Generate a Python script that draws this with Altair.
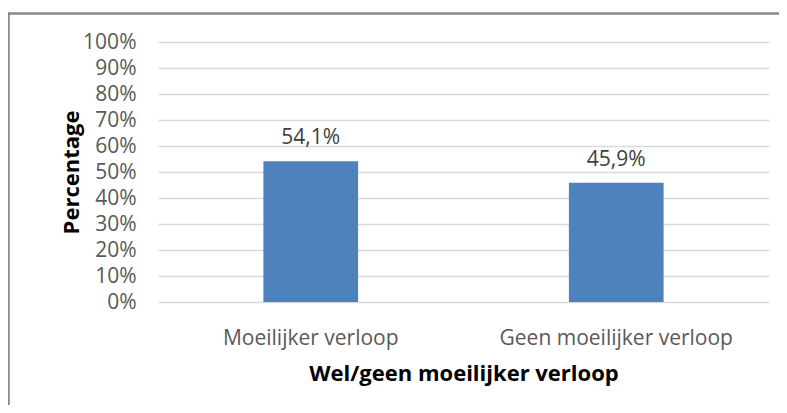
import altair as alt
import pandas as pd

categories = ["Moeilijker verloop", "Geen moeilijker verloop"]
values = [54.1, 45.9]
y_ticks = [0, 10, 20, 30, 40, 50, 60, 70, 80, 90, 100]

df = pd.DataFrame({"cat": categories, "val": values})

FONT = "Open Sans"

x_enc = alt.X(
    "cat:N",
    sort=categories,
    scale=alt.Scale(paddingInner=0.69, paddingOuter=0.345),
    axis=alt.Axis(
        title="Wel/geen moeilijker verloop",
        labelAngle=0,
        labelFont=FONT,
        labelFontSize=21,
        labelColor="#595959",
        labelPadding=25,
        labelLimit=0,
        ticks=False,
        domain=False,
        grid=False,
        titleFont=FONT,
        titleFontSize=22,
        titleFontWeight="bold",
        titleColor="#000000",
        titlePadding=15,
    ),
)
y_enc = alt.Y(
    "val:Q",
    scale=alt.Scale(domain=[0, 100], nice=False),
    axis=alt.Axis(
        values=y_ticks,
        labelExpr="datum.value + '%'",
        labelOverlap=False,
        title="Percentage",
        labelFont=FONT,
        labelFontSize=21,
        labelColor="#595959",
        labelPadding=22,
        ticks=False,
        domain=False,
        grid=True,
        gridColor="#d9d9d9",
        gridWidth=1.5,
        titleFont=FONT,
        titleFontSize=22,
        titleFontWeight="bold",
        titleColor="#000000",
        titlePadding=-1,
    ),
)

base = alt.Chart(df)
bars = base.mark_bar(color="#4f81bd").encode(x=x_enc, y=y_enc)
labels = base.mark_text(
    dy=-17, font=FONT, fontSize=21, color="#404040", baseline="alphabetic"
).transform_calculate(
    lab="replace(format(datum.val, '.1f'), '.', ',') + '%'"
).encode(
    x=x_enc,
    y=y_enc,
    text="lab:N",
)

top_border = alt.Chart(df).mark_rule(color="#888888", strokeWidth=2, clip=False).encode(
    x=alt.value(-150), x2=alt.value(629), y=alt.value(-28.5)
)
left_border = alt.Chart(df).mark_rule(color="#888888", strokeWidth=2, clip=False).encode(
    x=alt.value(-149.5), y=alt.value(-29.5), y2=alt.value(371)
)

chart = alt.layer(bars, labels, top_border, left_border).properties(
    width=611,
    height=260,
    background="#ffffff",
    autosize=alt.AutoSizeParams(type="none"),
    padding={"left": 150, "top": 34, "right": 10, "bottom": 103},
).configure_view(strokeWidth=0, strokeOpacity=0)

chart.save("out.html", embed_options={"renderer": "svg", "actions": False})
